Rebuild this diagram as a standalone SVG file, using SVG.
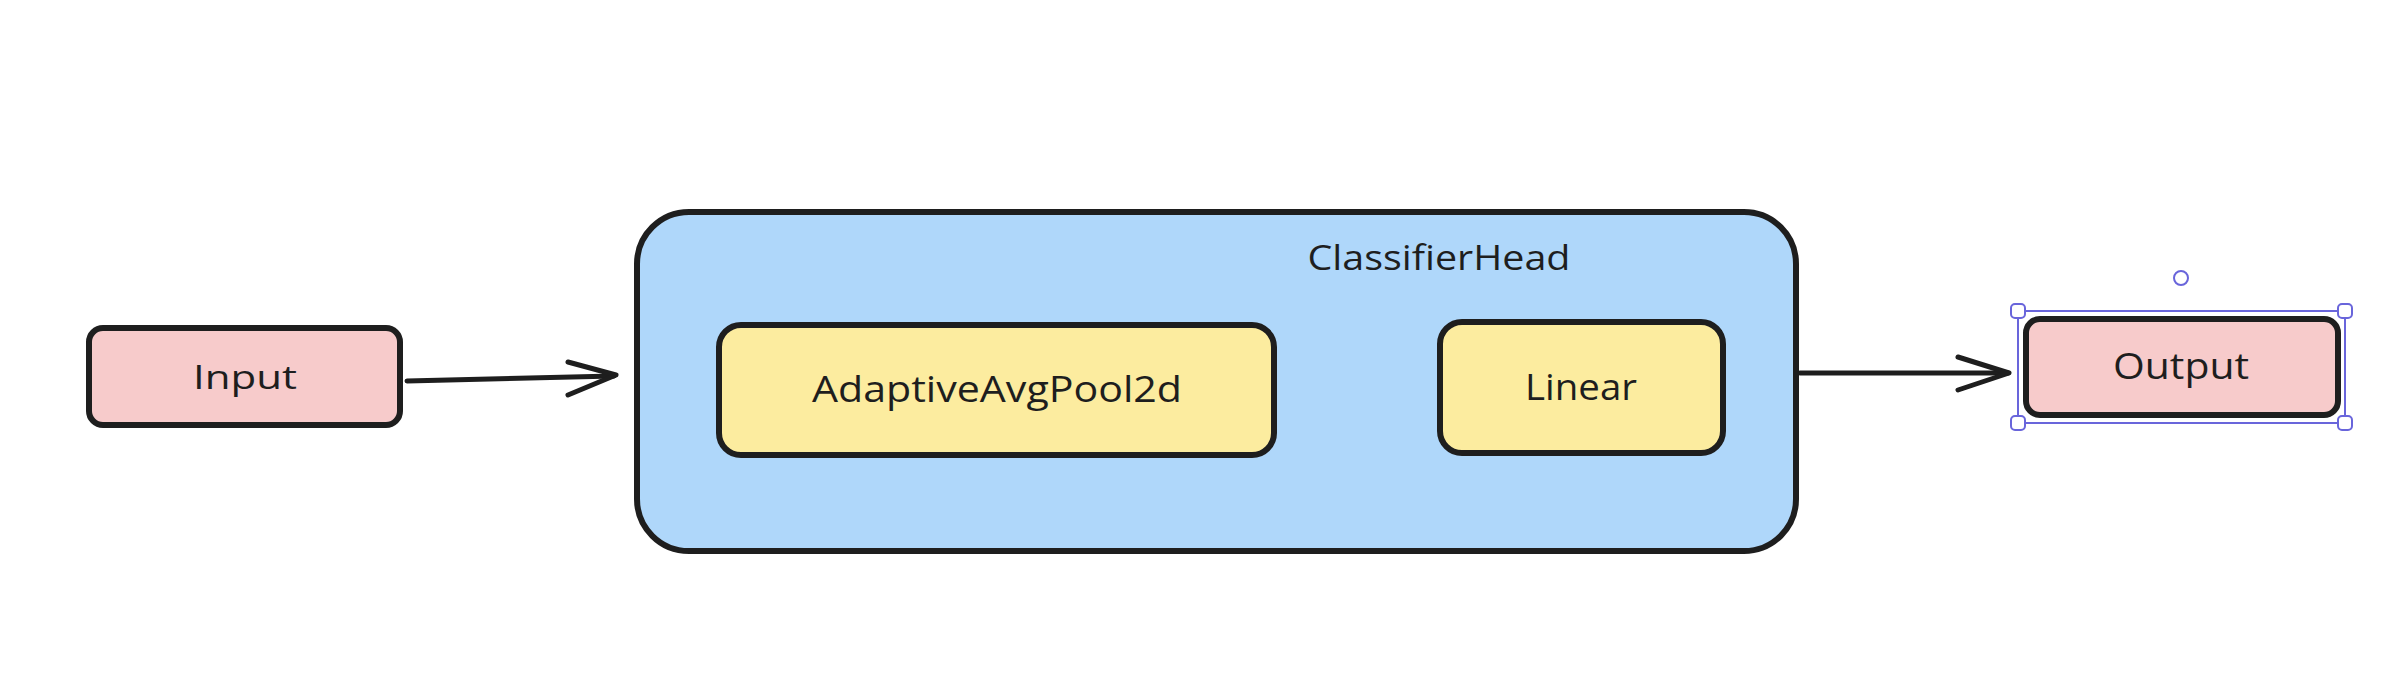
<svg xmlns="http://www.w3.org/2000/svg" width="2398" height="688" viewBox="0 0 2398 688">
  <defs>
    <style>
      .box { stroke: #1e1e1e; stroke-width: 6; stroke-linejoin: round; }
      .pink { fill: #f7cbcb; }
      .blue { fill: #afd7fa; }
      .yellow { fill: #fcec9f; }
      .lbl { font-family: "Open Sans", "Liberation Sans", sans-serif; fill: #1e1e1e; text-anchor: middle; }
      .conn { fill: none; stroke: #1e1e1e; stroke-width: 5; stroke-linecap: round; stroke-linejoin: round; }
      .sel { fill: none; stroke: #6965db; stroke-width: 2; }
      .handle { fill: #ffffff; stroke: #6965db; stroke-width: 2; }
    </style>
  </defs>
  <rect width="2398" height="688" fill="#ffffff"/>

  <g id="classifier-head">
    <rect class="box blue" x="637" y="212" width="1159" height="339" rx="52" ry="52" stroke-width="7"/>
    <text class="lbl" x="1439" y="270" font-size="34" textLength="263" lengthAdjust="spacingAndGlyphs">ClassifierHead</text>
  </g>

  <g id="adaptive-avg-pool">
    <rect class="box yellow" x="719" y="325" width="555" height="130" rx="22" ry="22" stroke-width="7"/>
    <text class="lbl" x="997" y="402" font-size="36" textLength="370" lengthAdjust="spacingAndGlyphs">AdaptiveAvgPool2d</text>
  </g>

  <g id="linear">
    <rect class="box yellow" x="1440" y="322" width="283" height="131" rx="22" ry="22" stroke-width="7"/>
    <text class="lbl" x="1581" y="400" font-size="36" textLength="112" lengthAdjust="spacingAndGlyphs">Linear</text>
  </g>

  <g id="input">
    <rect class="box pink" x="89" y="328" width="311" height="97" rx="14" ry="14" stroke-width="5"/>
    <text class="lbl" x="245" y="389" font-size="32" textLength="104" lengthAdjust="spacingAndGlyphs">Input</text>
  </g>

  <g id="output">
    <rect class="box pink" x="2026" y="319" width="312" height="96" rx="14" ry="14"/>
    <text class="lbl" x="2181" y="379" font-size="36" textLength="136" lengthAdjust="spacingAndGlyphs">Output</text>
  </g>

  <g id="connectors">
    <path class="conn" d="M 407 381 L 614 376"/>
    <path class="conn" d="M 568 362 L 616 375 L 568 395"/>
    <path class="conn" d="M 1800 373 L 2008 373"/>
    <path class="conn" stroke-width="6" d="M 1958 357 L 2009 373 L 1958 390"/>
  </g>

  <g id="selection">
    <rect class="sel" x="2018" y="311" width="327" height="112"/>
    <rect class="handle" x="2011" y="304" width="14" height="14" rx="4"/>
    <rect class="handle" x="2338" y="304" width="14" height="14" rx="4"/>
    <rect class="handle" x="2011" y="416" width="14" height="14" rx="4"/>
    <rect class="handle" x="2338" y="416" width="14" height="14" rx="4"/>
    <circle class="handle" cx="2181" cy="278" r="7"/>
  </g>
</svg>
